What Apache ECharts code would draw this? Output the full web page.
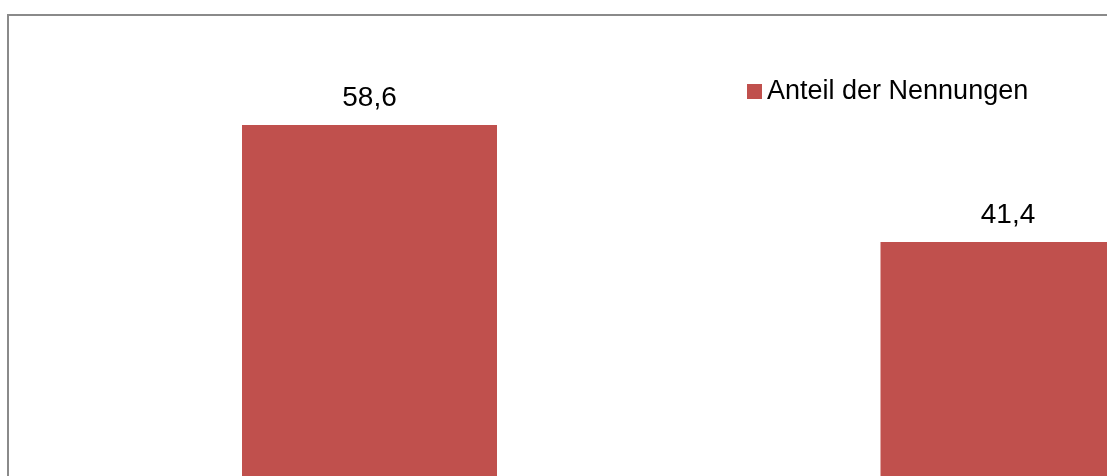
<!DOCTYPE html>
<html>
<head>
<meta charset="utf-8">
<script src="https://cdn.jsdelivr.net/npm/echarts@6/dist/echarts.min.js"></script>
<style>
html,body{margin:0;padding:0;width:1107px;height:476px;overflow:hidden;background:#fff;}
#c{position:absolute;left:0;top:0;width:1400px;height:600px;}
</style>
</head>
<body>
<div id="c"></div>
<script>
const categories = ["Kategorie 1", "Kategorie 2"];
const seriesName = "Anteil der Nennungen";
const values = [58.6, 41.4];

const chart = echarts.init(document.getElementById('c'), null, {renderer: 'canvas'});
chart.setOption({
  animation: false,
  backgroundColor: '#ffffff',
  graphic: [{
    type: 'rect',
    silent: true,
    shape: {x: 8, y: 15, width: 2000, height: 2000},
    style: {fill: 'none', stroke: '#8a8a8a', lineWidth: 2}
  }],
  legend: {
    left: 742,
    top: 73,
    icon: 'rect',
    itemWidth: 15,
    itemHeight: 15,
    itemGap: 10,
    data: [seriesName],
    textStyle: {fontFamily: 'Liberation Sans, Arial, sans-serif', fontSize: 27, color: '#000', padding: [0, 0, 0, 0]}
  },
  grid: {left: 50.25, width: 1277, top: 47.4, height: 476.2},
  xAxis: {
    type: 'category',
    data: categories,
    axisLine: {show: false},
    axisTick: {show: false},
    axisLabel: {show: false},
    splitLine: {show: false}
  },
  yAxis: {
    type: 'value',
    min: 0,
    max: 70,
    interval: 10,
    axisLine: {show: false},
    axisTick: {show: false},
    axisLabel: {show: false},
    splitLine: {show: false}
  },
  series: [{
    name: seriesName,
    type: 'bar',
    data: values,
    barWidth: 255,
    itemStyle: {color: '#C0504D'},
    label: {
      show: true,
      position: 'top',
      distance: 13,
      fontFamily: 'Liberation Sans, Arial, sans-serif',
      fontSize: 28,
      lineHeight: 28,
      color: '#000',
      formatter: p => String(p.value).replace('.', ',')
    }
  }]
});
</script>
</body>
</html>
